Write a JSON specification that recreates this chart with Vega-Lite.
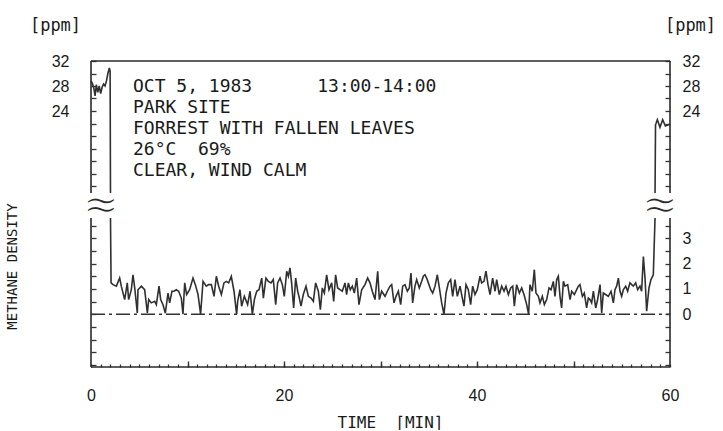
{
  "$schema": "https://vega.github.io/schema/vega-lite/v6.json",
  "width": 579,
  "height": 306,
  "autosize": {"type": "none"},
  "padding": {"left": 91, "top": 61, "right": 53, "bottom": 64},
  "background": "white",
  "config": {"view": {"stroke": null}, "axis": {"grid": false}},
  "datasets": {
    "series": [
      {"t": 0.0, "v": 28.8, "seg": "a"}, {"t": 0.15, "v": 28.4, "seg": "a"}, {"t": 0.3, "v": 27.6, "seg": "a"}, {"t": 0.42, "v": 26.4, "seg": "a"},
      {"t": 0.55, "v": 28.2, "seg": "a"}, {"t": 0.7, "v": 27.0, "seg": "a"}, {"t": 0.85, "v": 28.0, "seg": "a"}, {"t": 1.0, "v": 26.8, "seg": "a"},
      {"t": 1.15, "v": 27.8, "seg": "a"}, {"t": 1.3, "v": 28.3, "seg": "a"}, {"t": 1.45, "v": 28.0, "seg": "a"}, {"t": 1.6, "v": 28.8, "seg": "a"},
      {"t": 1.75, "v": 30.0, "seg": "a"}, {"t": 1.9, "v": 30.9, "seg": "a"}, {"t": 1.98, "v": 30.4, "seg": "a"}, {"t": 2.02, "v": 10.88, "seg": "a"},
      {"t": 2.02, "v": 3.8, "seg": "b"}, {"t": 2.08, "v": 1.24, "seg": "b"}, {"t": 2.28, "v": 1.17, "seg": "b"}, {"t": 2.63, "v": 1.11, "seg": "b"},
      {"t": 2.97, "v": 1.43, "seg": "b"}, {"t": 3.14, "v": 1.11, "seg": "b"}, {"t": 3.49, "v": 0.58, "seg": "b"}, {"t": 3.76, "v": 1.24, "seg": "b"},
      {"t": 3.9, "v": 0.58, "seg": "b"}, {"t": 4.18, "v": 0.97, "seg": "b"}, {"t": 4.35, "v": 1.56, "seg": "b"}, {"t": 4.53, "v": 1.04, "seg": "b"},
      {"t": 4.8, "v": 0.05, "seg": "b"}, {"t": 4.87, "v": 0.97, "seg": "b"}, {"t": 5.22, "v": 1.11, "seg": "b"}, {"t": 5.56, "v": 0.97, "seg": "b"},
      {"t": 5.84, "v": 0.05, "seg": "b"}, {"t": 5.98, "v": 0.58, "seg": "b"}, {"t": 6.25, "v": 0.45, "seg": "b"}, {"t": 6.6, "v": 0.51, "seg": "b"},
      {"t": 6.77, "v": 0.38, "seg": "b"}, {"t": 7.05, "v": 1.11, "seg": "b"}, {"t": 7.22, "v": 0.58, "seg": "b"}, {"t": 7.46, "v": 0.38, "seg": "b"},
      {"t": 7.7, "v": 0.05, "seg": "b"}, {"t": 7.98, "v": 0.84, "seg": "b"}, {"t": 8.15, "v": 0.45, "seg": "b"}, {"t": 8.39, "v": 0.91, "seg": "b"},
      {"t": 8.6, "v": 0.91, "seg": "b"}, {"t": 8.84, "v": 0.97, "seg": "b"}, {"t": 9.08, "v": 0.91, "seg": "b"}, {"t": 9.36, "v": 0.64, "seg": "b"},
      {"t": 9.53, "v": 0.0, "seg": "b"}, {"t": 9.71, "v": 1.24, "seg": "b"}, {"t": 9.91, "v": 0.78, "seg": "b"}, {"t": 10.22, "v": 0.97, "seg": "b"},
      {"t": 10.57, "v": 1.43, "seg": "b"}, {"t": 10.81, "v": 1.17, "seg": "b"}, {"t": 11.09, "v": 0.78, "seg": "b"}, {"t": 11.36, "v": 0.01, "seg": "b"},
      {"t": 11.61, "v": 1.3, "seg": "b"}, {"t": 11.95, "v": 1.11, "seg": "b"}, {"t": 12.19, "v": 1.17, "seg": "b"}, {"t": 12.47, "v": 1.17, "seg": "b"},
      {"t": 12.75, "v": 0.71, "seg": "b"}, {"t": 12.99, "v": 1.5, "seg": "b"}, {"t": 13.23, "v": 1.11, "seg": "b"}, {"t": 13.51, "v": 0.78, "seg": "b"},
      {"t": 13.78, "v": 1.24, "seg": "b"}, {"t": 14.02, "v": 1.3, "seg": "b"}, {"t": 14.27, "v": 1.24, "seg": "b"}, {"t": 14.54, "v": 1.5, "seg": "b"},
      {"t": 14.82, "v": 0.91, "seg": "b"}, {"t": 15.09, "v": 0.0, "seg": "b"}, {"t": 15.2, "v": 0.51, "seg": "b"}, {"t": 15.44, "v": 0.97, "seg": "b"},
      {"t": 15.61, "v": 0.32, "seg": "b"}, {"t": 15.89, "v": 0.71, "seg": "b"}, {"t": 16.23, "v": 0.38, "seg": "b"}, {"t": 16.48, "v": 0.91, "seg": "b"},
      {"t": 16.72, "v": 0.0, "seg": "b"}, {"t": 16.93, "v": 0.58, "seg": "b"}, {"t": 17.17, "v": 0.91, "seg": "b"}, {"t": 17.41, "v": 0.97, "seg": "b"},
      {"t": 17.69, "v": 1.43, "seg": "b"}, {"t": 17.86, "v": 0.64, "seg": "b"}, {"t": 18.13, "v": 1.43, "seg": "b"}, {"t": 18.38, "v": 1.3, "seg": "b"},
      {"t": 18.65, "v": 1.24, "seg": "b"}, {"t": 18.89, "v": 1.37, "seg": "b"}, {"t": 19.14, "v": 0.38, "seg": "b"}, {"t": 19.34, "v": 1.24, "seg": "b"},
      {"t": 19.59, "v": 1.43, "seg": "b"}, {"t": 19.83, "v": 1.17, "seg": "b"}, {"t": 20.03, "v": 0.71, "seg": "b"}, {"t": 20.28, "v": 1.7, "seg": "b"},
      {"t": 20.45, "v": 1.5, "seg": "b"}, {"t": 20.62, "v": 1.83, "seg": "b"}, {"t": 20.79, "v": 1.24, "seg": "b"}, {"t": 21.0, "v": 0.25, "seg": "b"},
      {"t": 21.21, "v": 1.43, "seg": "b"}, {"t": 21.42, "v": 0.91, "seg": "b"}, {"t": 21.59, "v": 0.64, "seg": "b"}, {"t": 21.76, "v": 0.32, "seg": "b"},
      {"t": 22.0, "v": 0.78, "seg": "b"}, {"t": 22.28, "v": 1.11, "seg": "b"}, {"t": 22.52, "v": 0.71, "seg": "b"}, {"t": 22.8, "v": 0.64, "seg": "b"},
      {"t": 23.04, "v": 0.51, "seg": "b"}, {"t": 23.28, "v": 1.24, "seg": "b"}, {"t": 23.56, "v": 0.91, "seg": "b"}, {"t": 23.77, "v": 0.18, "seg": "b"},
      {"t": 23.97, "v": 1.04, "seg": "b"}, {"t": 24.18, "v": 0.84, "seg": "b"}, {"t": 24.42, "v": 1.56, "seg": "b"}, {"t": 24.66, "v": 0.97, "seg": "b"},
      {"t": 24.94, "v": 1.24, "seg": "b"}, {"t": 25.15, "v": 0.51, "seg": "b"}, {"t": 25.35, "v": 1.56, "seg": "b"}, {"t": 25.56, "v": 1.04, "seg": "b"},
      {"t": 25.8, "v": 0.97, "seg": "b"}, {"t": 26.04, "v": 0.91, "seg": "b"}, {"t": 26.32, "v": 1.24, "seg": "b"}, {"t": 26.49, "v": 0.78, "seg": "b"},
      {"t": 26.67, "v": 1.24, "seg": "b"}, {"t": 26.87, "v": 0.97, "seg": "b"}, {"t": 27.08, "v": 1.11, "seg": "b"}, {"t": 27.29, "v": 0.84, "seg": "b"},
      {"t": 27.53, "v": 1.43, "seg": "b"}, {"t": 27.77, "v": 0.38, "seg": "b"}, {"t": 28.05, "v": 0.97, "seg": "b"}, {"t": 28.39, "v": 1.17, "seg": "b"},
      {"t": 28.67, "v": 1.43, "seg": "b"}, {"t": 28.91, "v": 1.24, "seg": "b"}, {"t": 29.15, "v": 0.91, "seg": "b"}, {"t": 29.43, "v": 0.58, "seg": "b"},
      {"t": 29.71, "v": 1.7, "seg": "b"}, {"t": 29.88, "v": 0.58, "seg": "b"}, {"t": 30.12, "v": 0.91, "seg": "b"}, {"t": 30.47, "v": 0.71, "seg": "b"},
      {"t": 30.71, "v": 0.91, "seg": "b"}, {"t": 30.98, "v": 1.11, "seg": "b"}, {"t": 31.16, "v": 1.17, "seg": "b"}, {"t": 31.4, "v": 0.45, "seg": "b"},
      {"t": 31.61, "v": 0.71, "seg": "b"}, {"t": 31.85, "v": 0.91, "seg": "b"}, {"t": 32.09, "v": 0.38, "seg": "b"}, {"t": 32.3, "v": 1.11, "seg": "b"},
      {"t": 32.54, "v": 1.17, "seg": "b"}, {"t": 32.78, "v": 0.91, "seg": "b"}, {"t": 32.99, "v": 1.04, "seg": "b"}, {"t": 33.16, "v": 1.63, "seg": "b"},
      {"t": 33.33, "v": 0.45, "seg": "b"}, {"t": 33.57, "v": 1.11, "seg": "b"}, {"t": 33.75, "v": 1.37, "seg": "b"}, {"t": 34.02, "v": 1.04, "seg": "b"},
      {"t": 34.27, "v": 1.3, "seg": "b"}, {"t": 34.44, "v": 1.5, "seg": "b"}, {"t": 34.61, "v": 1.56, "seg": "b"}, {"t": 34.78, "v": 1.43, "seg": "b"},
      {"t": 34.96, "v": 1.24, "seg": "b"}, {"t": 35.2, "v": 0.97, "seg": "b"}, {"t": 35.41, "v": 0.84, "seg": "b"}, {"t": 35.65, "v": 1.11, "seg": "b"},
      {"t": 35.89, "v": 1.56, "seg": "b"}, {"t": 36.1, "v": 1.04, "seg": "b"}, {"t": 36.34, "v": 0.45, "seg": "b"}, {"t": 36.58, "v": 0.0, "seg": "b"},
      {"t": 36.79, "v": 0.84, "seg": "b"}, {"t": 37.03, "v": 1.24, "seg": "b"}, {"t": 37.27, "v": 1.37, "seg": "b"}, {"t": 37.48, "v": 0.71, "seg": "b"},
      {"t": 37.72, "v": 1.37, "seg": "b"}, {"t": 37.96, "v": 0.71, "seg": "b"}, {"t": 38.24, "v": 1.11, "seg": "b"}, {"t": 38.51, "v": 0.58, "seg": "b"},
      {"t": 38.65, "v": 0.32, "seg": "b"}, {"t": 38.86, "v": 1.17, "seg": "b"}, {"t": 39.1, "v": 0.97, "seg": "b"}, {"t": 39.34, "v": 0.38, "seg": "b"},
      {"t": 39.55, "v": 1.11, "seg": "b"}, {"t": 39.79, "v": 0.78, "seg": "b"}, {"t": 40.03, "v": 0.97, "seg": "b"}, {"t": 40.31, "v": 1.5, "seg": "b"},
      {"t": 40.48, "v": 1.24, "seg": "b"}, {"t": 40.72, "v": 1.3, "seg": "b"}, {"t": 40.93, "v": 1.7, "seg": "b"}, {"t": 41.14, "v": 1.17, "seg": "b"},
      {"t": 41.35, "v": 0.78, "seg": "b"}, {"t": 41.62, "v": 1.43, "seg": "b"}, {"t": 41.87, "v": 0.91, "seg": "b"}, {"t": 42.04, "v": 1.37, "seg": "b"},
      {"t": 42.31, "v": 0.78, "seg": "b"}, {"t": 42.56, "v": 1.11, "seg": "b"}, {"t": 42.8, "v": 0.91, "seg": "b"}, {"t": 43.0, "v": 1.11, "seg": "b"},
      {"t": 43.25, "v": 0.78, "seg": "b"}, {"t": 43.49, "v": 1.04, "seg": "b"}, {"t": 43.7, "v": 1.11, "seg": "b"}, {"t": 43.87, "v": 0.32, "seg": "b"},
      {"t": 44.11, "v": 1.17, "seg": "b"}, {"t": 44.39, "v": 0.84, "seg": "b"}, {"t": 44.63, "v": 1.04, "seg": "b"}, {"t": 44.87, "v": 0.78, "seg": "b"},
      {"t": 45.15, "v": 0.38, "seg": "b"}, {"t": 45.35, "v": 0.0, "seg": "b"}, {"t": 45.49, "v": 1.17, "seg": "b"}, {"t": 45.73, "v": 0.91, "seg": "b"},
      {"t": 45.94, "v": 1.76, "seg": "b"}, {"t": 46.11, "v": 0.84, "seg": "b"}, {"t": 46.36, "v": 0.71, "seg": "b"}, {"t": 46.53, "v": 0.45, "seg": "b"},
      {"t": 46.77, "v": 0.71, "seg": "b"}, {"t": 46.98, "v": 0.38, "seg": "b"}, {"t": 47.22, "v": 0.58, "seg": "b"}, {"t": 47.46, "v": 1.04, "seg": "b"},
      {"t": 47.67, "v": 0.97, "seg": "b"}, {"t": 47.91, "v": 1.3, "seg": "b"}, {"t": 48.08, "v": 0.71, "seg": "b"}, {"t": 48.26, "v": 1.37, "seg": "b"},
      {"t": 48.43, "v": 1.5, "seg": "b"}, {"t": 48.6, "v": 0.71, "seg": "b"}, {"t": 48.77, "v": 0.25, "seg": "b"}, {"t": 48.95, "v": 1.3, "seg": "b"},
      {"t": 49.12, "v": 1.11, "seg": "b"}, {"t": 49.4, "v": 1.17, "seg": "b"}, {"t": 49.64, "v": 0.58, "seg": "b"}, {"t": 49.81, "v": 0.91, "seg": "b"},
      {"t": 50.09, "v": 0.78, "seg": "b"}, {"t": 50.33, "v": 0.97, "seg": "b"}, {"t": 50.5, "v": 1.11, "seg": "b"}, {"t": 50.67, "v": 1.17, "seg": "b"},
      {"t": 50.92, "v": 0.71, "seg": "b"}, {"t": 51.12, "v": 0.84, "seg": "b"}, {"t": 51.36, "v": 0.25, "seg": "b"}, {"t": 51.54, "v": 0.64, "seg": "b"},
      {"t": 51.71, "v": 0.58, "seg": "b"}, {"t": 51.88, "v": 0.45, "seg": "b"}, {"t": 52.06, "v": 0.91, "seg": "b"}, {"t": 52.3, "v": 0.25, "seg": "b"},
      {"t": 52.5, "v": 0.58, "seg": "b"}, {"t": 52.75, "v": 1.17, "seg": "b"}, {"t": 52.92, "v": 0.05, "seg": "b"}, {"t": 53.09, "v": 0.84, "seg": "b"},
      {"t": 53.33, "v": 0.78, "seg": "b"}, {"t": 53.61, "v": 0.71, "seg": "b"}, {"t": 53.89, "v": 0.91, "seg": "b"}, {"t": 54.13, "v": 0.45, "seg": "b"},
      {"t": 54.3, "v": 0.97, "seg": "b"}, {"t": 54.47, "v": 1.11, "seg": "b"}, {"t": 54.65, "v": 1.43, "seg": "b"}, {"t": 54.82, "v": 0.91, "seg": "b"},
      {"t": 54.99, "v": 0.71, "seg": "b"}, {"t": 55.16, "v": 0.97, "seg": "b"}, {"t": 55.41, "v": 1.11, "seg": "b"}, {"t": 55.61, "v": 0.91, "seg": "b"},
      {"t": 55.85, "v": 1.24, "seg": "b"}, {"t": 56.03, "v": 1.17, "seg": "b"}, {"t": 56.2, "v": 1.11, "seg": "b"}, {"t": 56.44, "v": 1.24, "seg": "b"},
      {"t": 56.65, "v": 0.97, "seg": "b"}, {"t": 56.89, "v": 1.11, "seg": "b"}, {"t": 57.06, "v": 0.91, "seg": "b"}, {"t": 57.24, "v": 2.28, "seg": "b"},
      {"t": 57.41, "v": 1.43, "seg": "b"}, {"t": 57.58, "v": 0.12, "seg": "b"}, {"t": 57.82, "v": 1.04, "seg": "b"}, {"t": 58.03, "v": 1.37, "seg": "b"},
      {"t": 58.27, "v": 1.56, "seg": "b"}, {"t": 58.45, "v": 3.8, "seg": "b"},
      {"t": 58.45, "v": 10.88, "seg": "c"}, {"t": 58.5, "v": 21.8, "seg": "c"}, {"t": 58.55, "v": 22.0, "seg": "c"}, {"t": 58.69, "v": 22.6, "seg": "c"},
      {"t": 58.96, "v": 21.4, "seg": "c"}, {"t": 59.24, "v": 22.6, "seg": "c"}, {"t": 59.52, "v": 21.6, "seg": "c"}, {"t": 59.83, "v": 21.8, "seg": "c"},
      {"t": 60.0, "v": 21.9, "seg": "c"}
    ],
    "frame": [
      {"t": 0, "t2": 0, "v": -2.08, "v2": 3.8},
      {"t": 0, "t2": 0, "v": 10.88, "v2": 32},
      {"t": 60, "t2": 60, "v": -2.08, "v2": 3.8},
      {"t": 60, "t2": 60, "v": 10.88, "v2": 32},
      {"t": 0, "t2": 60, "v": 32, "v2": 32},
      {"t": 0, "t2": 60, "v": -2.08, "v2": -2.08}
    ]
  },
  "layer": [
    {
      "data": {"name": "series"},
      "mark": {"type": "line", "stroke": "#303030", "strokeWidth": 1.6, "interpolate": "linear"},
      "encoding": {
        "x": {"field": "t", "type": "quantitative", "scale": {"domain": [0, 60]},
          "axis": {"orient": "bottom", "values": [0,1,2,3,4,5,6,7,8,9,10,11,12,13,14,15,16,17,18,19,20,21,22,23,24,25,26,27,28,29,30,31,32,33,34,35,36,37,38,39,40,41,42,43,44,45,46,47,48,49,50,51,52,53,54,55,56,57,58,59,60],
            "tickSize": -3, "tickWidth": 1.3, "tickColor": "#333333", "domain": false, "grid": false,
            "labelExpr": "datum.value % 20 === 0 ? datum.label : ''",
            "labelFont": "Liberation Sans", "labelFontSize": 16, "labelColor": "#1a1a1a", "labelPadding": 23,
            "labelOverlap": false, "labelFlush": false, "labelBound": false,
            "title": "TIME\u00a0\u00a0⌈MIN⌉", "titleFont": "DejaVu Sans Mono", "titleFontSize": 16, "titleFontWeight": "normal",
            "titleColor": "#1a1a1a", "titleX": 299, "titleY": 60, "titleAlign": "center", "titleBaseline": "alphabetic", "titleAngle": 0}},
        "y": {"field": "v", "type": "quantitative", "scale": {"domain": [-2.08, 3.8, 10.88, 32], "range": [306, 157, 132, 0]},
          "axis": {"orient": "left", "values": [-2,-1.5,-1,-0.5,0,0.5,1,1.5,2,2.5,3,3.5,12,14,16,18,20,22,24,26,28,30,32],
            "tickSize": -5, "tickWidth": 1.3, "tickColor": "#333333", "domain": false, "grid": false,
            "labelExpr": "datum.value >= 24 && datum.value % 4 === 0 ? datum.label : ''",
            "labelFont": "Liberation Sans", "labelFontSize": 16, "labelColor": "#1a1a1a", "labelPadding": 27,
            "labelOverlap": false, "labelFlush": false, "labelBound": false,
            "title": "METHANE DENSITY", "titleFont": "DejaVu Sans Mono", "titleFontSize": 14, "titleFontWeight": "normal",
            "titleColor": "#1a1a1a", "titleX": -79, "titleY": 205, "titleAlign": "center", "titleBaseline": "middle", "titleAngle": -90}},
        "detail": {"field": "seg", "type": "nominal"}
      }
    },
    {
      "data": {"name": "frame"},
      "mark": {"type": "rule", "stroke": "#2a2a2a", "strokeWidth": 1.6},
      "encoding": {
        "x": {"field": "t", "type": "quantitative", "scale": {"domain": [0, 60]},
          "axis": {"orient": "bottom", "values": [10, 20, 30, 40, 50], "tickSize": -6, "tickWidth": 1.4, "tickColor": "#333333",
            "labels": false, "domain": false, "grid": false, "title": null}},
        "x2": {"field": "t2"},
        "y": {"field": "v", "type": "quantitative", "scale": {"domain": [-2.08, 3.8, 10.88, 32], "range": [306, 157, 132, 0]},
          "axis": {"orient": "right", "values": [-2,-1.5,-1,-0.5,0,0.5,1,1.5,2,2.5,3,3.5,12,14,16,18,20,22,24,26,28,30,32],
            "tickSize": -5, "tickWidth": 1.3, "tickColor": "#333333", "domain": false, "grid": false,
            "labelExpr": "(datum.value >= 24 && datum.value % 4 === 0) || (datum.value >= 0 && datum.value <= 3 && datum.value % 1 === 0) ? datum.label : ''",
            "labelFont": "Liberation Sans", "labelFontSize": 16, "labelColor": "#1a1a1a", "labelPadding": 17,
            "labelOverlap": false, "labelFlush": false, "labelBound": false,
            "title": "[ppm]", "titleFont": "DejaVu Sans Mono", "titleFontSize": 17, "titleFontWeight": "normal",
            "titleColor": "#1a1a1a", "titleX": 20, "titleY": -36, "titleAlign": "center", "titleBaseline": "middle", "titleAngle": 0}},
        "y2": {"field": "v2"}
      }
    },
    {
      "data": {"values": [{}]},
      "mark": {"type": "rule", "stroke": "#333333", "strokeWidth": 1.5, "strokeDash": [14, 4, 3, 4]},
      "encoding": {
        "x": {"datum": 0, "type": "quantitative", "scale": {"domain": [0, 60]}, "axis": null},
        "x2": {"datum": 60},
        "y": {"datum": 0, "type": "quantitative", "scale": {"domain": [-2.08, 3.8, 10.88, 32], "range": [306, 157, 132, 0]},
          "axis": {"orient": "left", "ticks": false, "labels": false, "domain": false, "grid": false,
            "title": "[ppm]", "titleFont": "DejaVu Sans Mono", "titleFontSize": 17, "titleFontWeight": "normal",
            "titleColor": "#1a1a1a", "titleX": -36, "titleY": -36, "titleAlign": "center", "titleBaseline": "middle", "titleAngle": 0}}
      }
    },
    {
      "data": {"values": [{}]},
      "mark": {"type": "text", "lineBreak": "\n", "lineHeight": 21.2, "align": "left", "baseline": "alphabetic",
        "font": "DejaVu Sans Mono", "fontSize": 18, "color": "#1a1a1a"},
      "encoding": {
        "x": {"datum": 4.35, "type": "quantitative", "scale": {"domain": [0, 60]}, "axis": null},
        "y": {"datum": 27.09, "type": "quantitative", "scale": {"domain": [-2.08, 3.8, 10.88, 32], "range": [306, 157, 132, 0]}, "axis": null},
        "text": {"value": "OCT 5, 1983\u00a0\u00a0\u00a0\u00a0\u00a0\u00a013:00-14:00\nPARK SITE\nFORREST WITH FALLEN LEAVES\n26°C\u00a0\u00a069%\nCLEAR, WIND CALM"}
      }
    },
    {
      "data": {"values": [{}]},
      "mark": {"type": "text", "align": "center", "baseline": "middle", "font": "DejaVu Sans", "fontSize": 44, "color": "#2a2a2a", "stroke": "white", "strokeWidth": 1.6},
      "encoding": {
        "x": {"datum": 1.04, "type": "quantitative", "scale": {"domain": [0, 60]}, "axis": null},
        "y": {"datum": 7.2, "type": "quantitative", "scale": {"domain": [-2.08, 3.8, 10.88, 32], "range": [306, 157, 132, 0]}, "axis": null},
        "text": {"value": "≈"}
      }
    },
    {
      "data": {"values": [{}]},
      "mark": {"type": "text", "align": "center", "baseline": "middle", "font": "DejaVu Sans", "fontSize": 44, "color": "#2a2a2a", "stroke": "white", "strokeWidth": 1.6},
      "encoding": {
        "x": {"datum": 58.96, "type": "quantitative", "scale": {"domain": [0, 60]}, "axis": null},
        "y": {"datum": 7.2, "type": "quantitative", "scale": {"domain": [-2.08, 3.8, 10.88, 32], "range": [306, 157, 132, 0]}, "axis": null},
        "text": {"value": "≈"}
      }
    }
  ],
  "resolve": {"axis": {"x": "independent", "y": "independent"}}
}
